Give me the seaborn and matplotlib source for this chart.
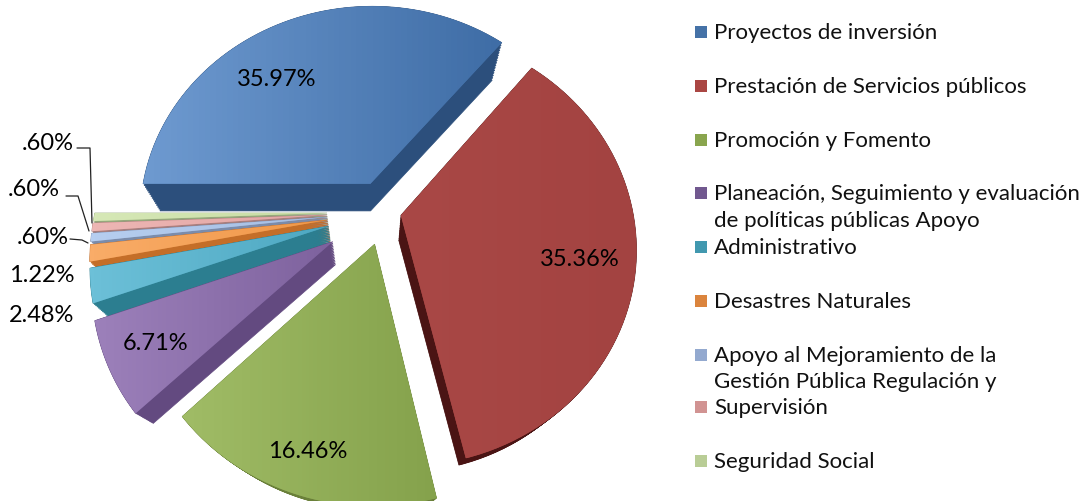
import numpy as np
import matplotlib
matplotlib.use("Agg")
import matplotlib.pyplot as plt
import seaborn as sns
from matplotlib.path import Path
from matplotlib.patches import PathPatch
from matplotlib.transforms import Affine2D
from matplotlib.colors import LinearSegmentedColormap

sns.set_theme(style="white")
plt.rcParams['font.family'] = ['Lato', 'DejaVu Sans']

categories = ["Proyectos de inversión", "Prestación de Servicios públicos", "Promoción y Fomento",
              "Planeación, Seguimiento y evaluación de políticas públicas Apoyo", "Administrativo",
              "Desastres Naturales", "Apoyo al Mejoramiento de la Gestión Pública Regulación y",
              "Supervisión", "Seguridad Social"]
values = [35.97, 35.36, 16.46, 6.71, 2.48, 1.22, 0.60, 0.60, 0.60]
value_labels = ["35.97%", "35.36%", "16.46%", "6.71%", "2.48%", "1.22%", ".60%", ".60%", ".60%"]
explode = [0.15, 0.07, 0.155, 0.26, 0.25, 0.25, 0.25, 0.25, 0.25]

legend_colors = ["#4572A7", "#AA4643", "#89A54E", "#71588F", "#4198AF", "#DB843D", "#93A9CF", "#D19392", "#B9CD96"]
grad_left = ["#6E9AD0", "#A94846", "#A0BC66", "#9C80BA", "#6CC0D8", "#F9AC68", "#B6CEF0", "#EDB6B4", "#D6E8B6"]
grad_right = ["#3F6DA6", "#A34341", "#85A24C", "#7E629E", "#4EA8C2", "#F09848", "#A6BEE2", "#E2A6A4", "#C8DCA4"]
side_colors = ["#2C4F7C", "#4A1414", "#6A803A", "#634A80", "#2C7E90", "#C46E28", "#7B8CAB", "#A87F7E", "#96A87C"]
draw_order = [0, 1, 8, 7, 6, 5, 4, 3, 2]

legend_rows = [("Proyectos de inversión", 0), ("Prestación de Servicios públicos", 1), ("Promoción y Fomento", 2),
               ("Planeación, Seguimiento y evaluación", 3), ("de políticas públicas Apoyo", None),
               ("Administrativo", 4), ("Desastres Naturales", 5), ("Apoyo al Mejoramiento de la", 6),
               ("Gestión Pública Regulación y", None), ("Supervisión", 7), ("Seguridad Social", 8)]
legend_y = [32, 86, 140, 193, 220, 247, 301, 355, 381, 407, 461]

CX, CY, RX, RY, K = 385, 212, 232, 212, 0.15
VP = np.array([372.0, 550.0])
T_BOTTOM = 0.926

fig = plt.figure(figsize=(10.84, 5.01), dpi=100)
ax = fig.add_axes([0, 0, 1, 1])
wedges, _ = ax.pie(values, explode=explode, startangle=180, counterclock=False, radius=1,
                   colors=sns.color_palette(legend_colors))


def project(xy):
    s = 1.0 / (1.0 + K * xy[:, 1])
    return np.column_stack([CX + RX * xy[:, 0] * s, CY - RY * xy[:, 1] * s])


faces = []
for w in wedges:
    poly = w.get_path().to_polygons(Affine2D().scale(1000), closed_only=True)[0] / 1000.0
    faces.append(project(poly))
    w.remove()

z = 1
for i in draw_order:
    face = faces[i]
    for t in np.linspace(T_BOTTOM, 1.0, 16):
        layer = VP + (face - VP) * t
        ax.add_patch(PathPatch(Path(layer, closed=True), fc=side_colors[i], ec=side_colors[i], lw=0.5, zorder=z))
    z += 1
    patch = PathPatch(Path(face, closed=True), fc=legend_colors[i], ec="none", zorder=z)
    ax.add_patch(patch)
    x0, x1 = face[:, 0].min(), face[:, 0].max()
    y0, y1 = face[:, 1].min(), face[:, 1].max()
    cmap = LinearSegmentedColormap.from_list(f"g{i}", [grad_left[i], grad_right[i]])
    im = ax.imshow(np.linspace(0, 1, 64).reshape(1, -1), extent=(x0, x1, y1, y0), cmap=cmap,
                   aspect="auto", zorder=z + 0.5)
    im.set_clip_path(patch)
    z += 1

ax.set_aspect("auto")
ax.set_xlim(0, 1084)
ax.set_ylim(501, 0)
ax.set_axis_off()

LABEL_Z = 100
FS = 17.0
label_pos = [(277, 79), (580, 260), (308, 452), (156, 343), (42, 315), (42, 275), (43, 237), (34, 190), (48, 144)]
for (x, y), s in zip(label_pos, value_labels):
    ax.text(x, y, s, ha="center", va="center", fontsize=FS, color="black", zorder=LABEL_Z)

leaders = [([70, 82, 88], [239, 240, 243]), ([66, 78, 89], [196, 196, 231]), ([77, 90, 92], [148, 148, 223])]
for lx, ly in leaders:
    ax.plot(lx, ly, color="#222222", lw=0.9, zorder=LABEL_Z)

for (text, idx), y in zip(legend_rows, legend_y):
    ax.text(714, y + 7, text, ha="left", va="baseline", fontsize=16.0, color="#111111", zorder=LABEL_Z)
    if idx is not None:
        ax.scatter([700.5], [y], marker="s", s=85, color=legend_colors[idx], linewidths=0, zorder=LABEL_Z)

ax.set_xlim(0, 1084)
ax.set_ylim(501, 0)
fig.savefig("out.png", dpi=100, facecolor="white")
